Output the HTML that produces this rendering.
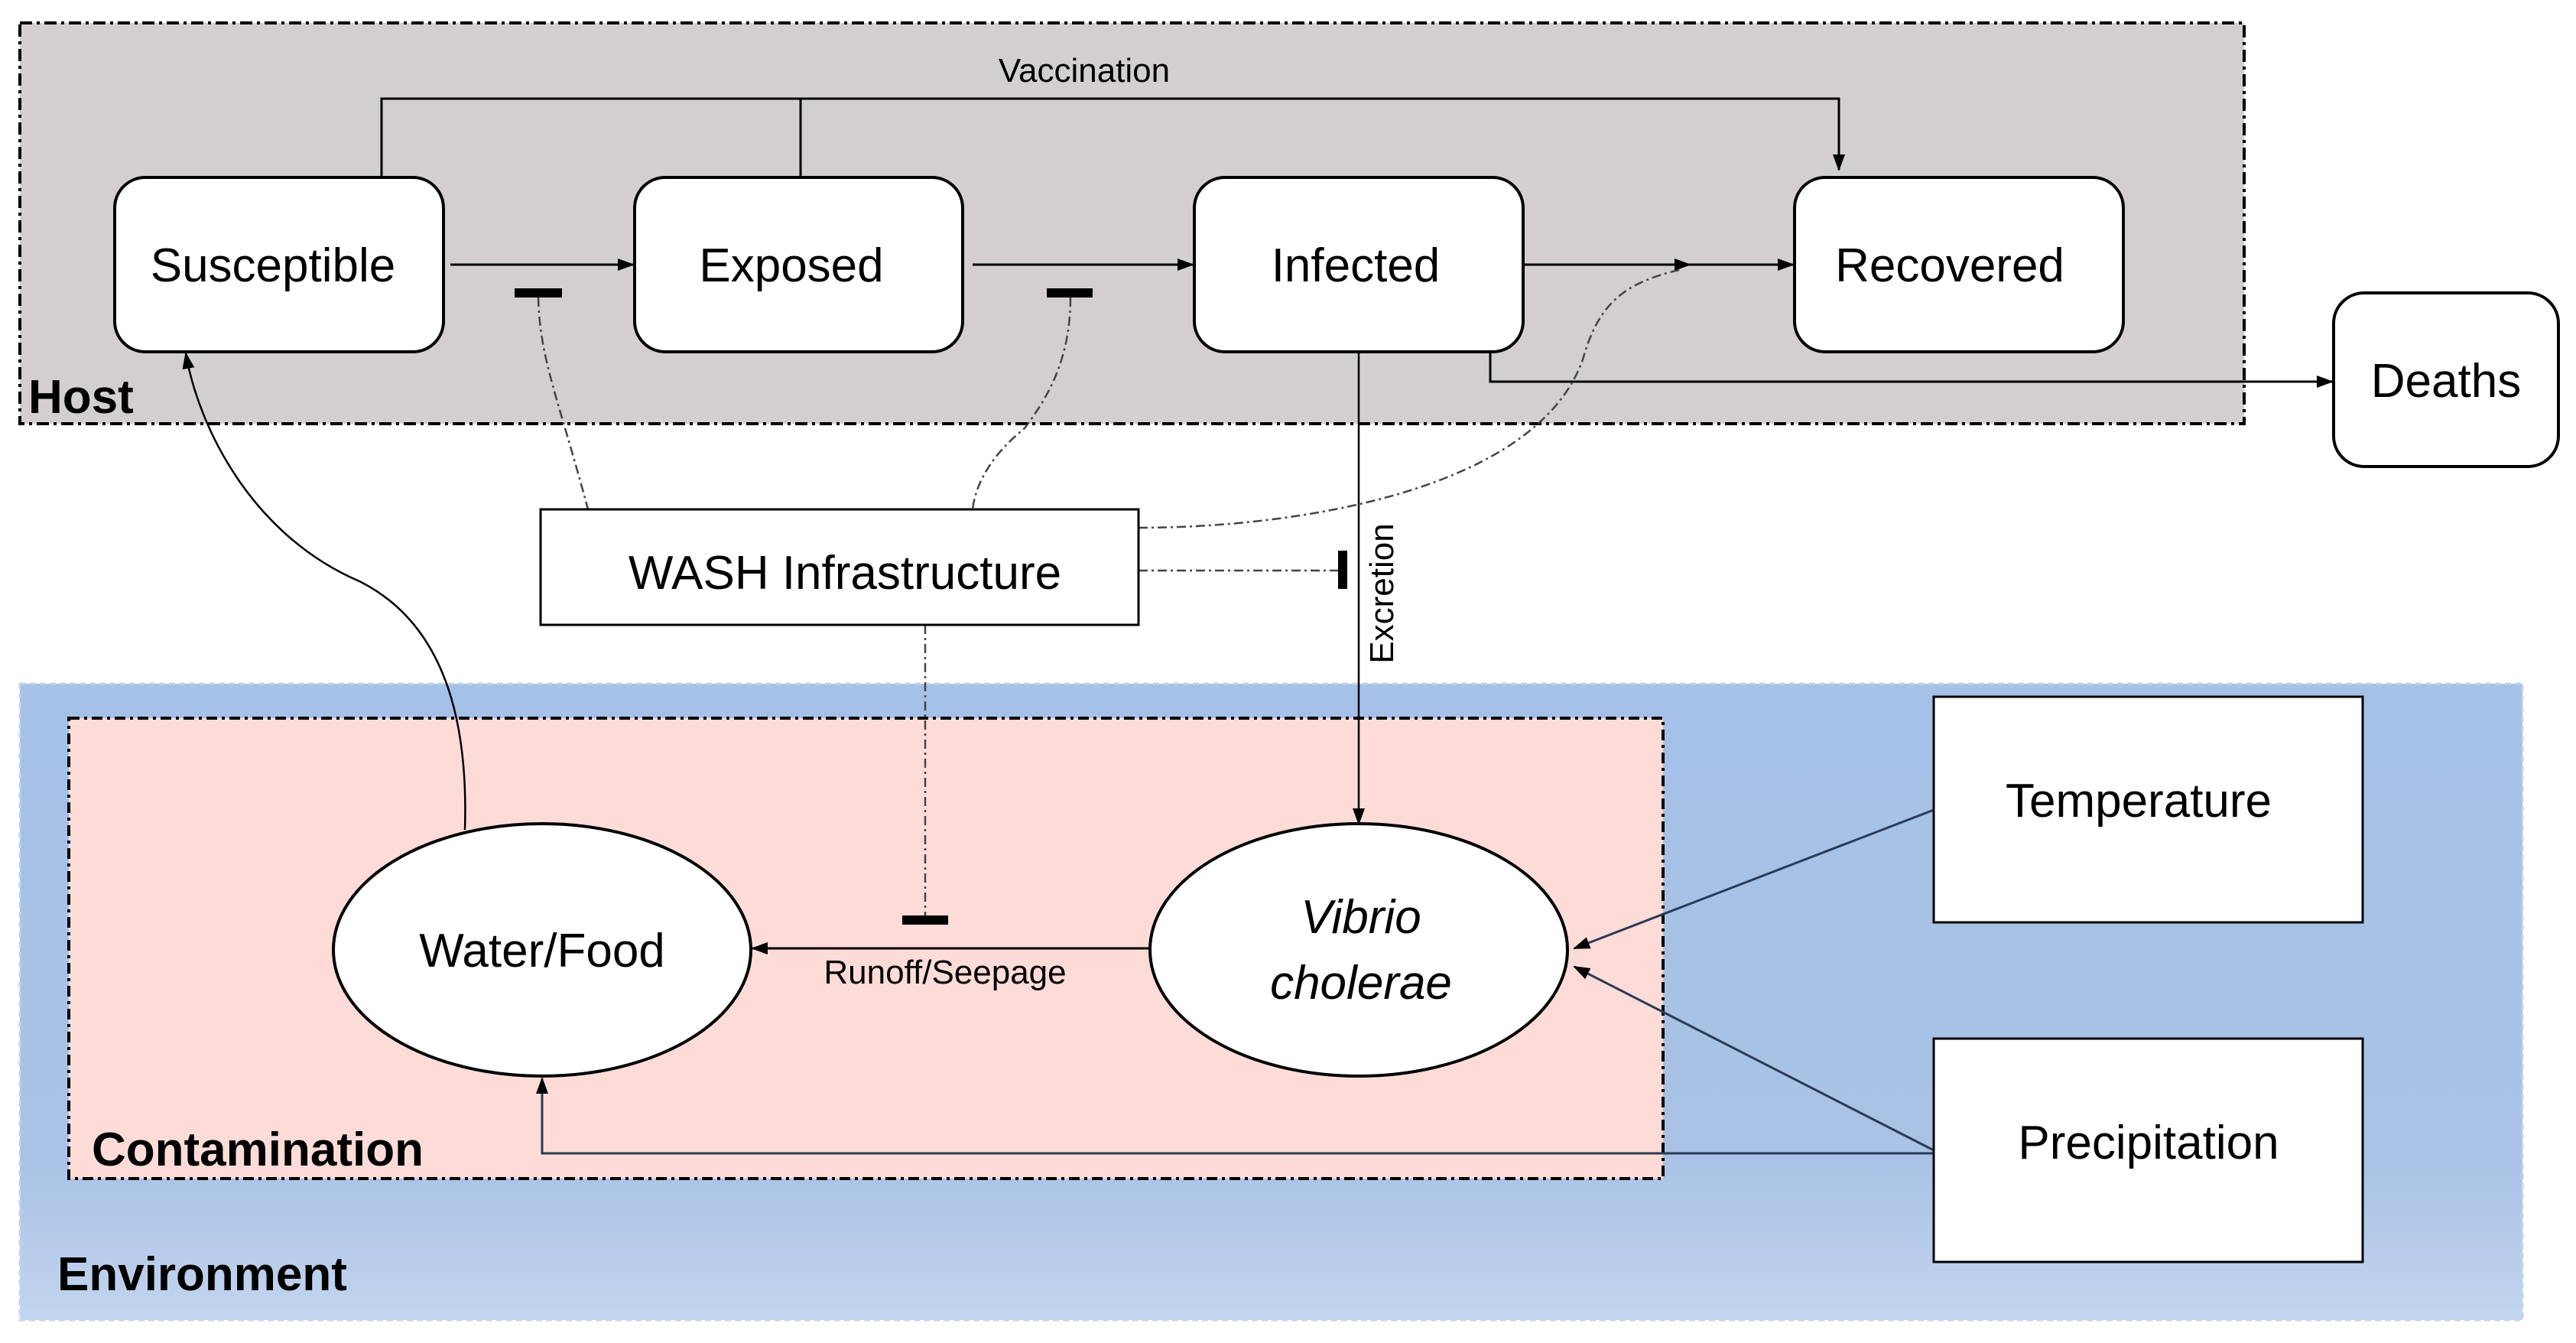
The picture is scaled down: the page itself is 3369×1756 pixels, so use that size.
<!DOCTYPE html>
<html><head><meta charset="utf-8"><style>html,body{margin:0;padding:0;background:#fff}svg{display:block}</style></head>
<body>
<svg width="3369" height="1756" viewBox="0 0 3369 1756" xmlns="http://www.w3.org/2000/svg" font-family="Liberation Sans, sans-serif">
<defs>
<marker id="b" markerWidth="22" markerHeight="22" refX="20" refY="11" orient="auto" markerUnits="userSpaceOnUse"><path d="M0,3 L22,11 L0,19 z" fill="#000"/></marker>
<linearGradient id="env" x1="0" y1="0" x2="0" y2="1"><stop offset="0" stop-color="#a6c1e7"/><stop offset="0.75" stop-color="#a9c2e6"/><stop offset="1" stop-color="#c3d5ee"/></linearGradient>
</defs>
<rect x="26" y="30" width="2909" height="524" fill="#d3cfd0" stroke="#000" stroke-width="4" stroke-dasharray="16,6,4,6"/>
<text x="37" y="540" font-size="62" font-weight="bold">Host</text>
<rect x="26" y="894" width="3273" height="832" fill="url(#env)" stroke="#c5d4ea" stroke-width="3" stroke-dasharray="8,5"/>
<rect x="90" y="939" width="2085" height="602" fill="#fddcd8" stroke="#000" stroke-width="4" stroke-dasharray="14,6,4,6"/>
<text x="120" y="1524" font-size="62" font-weight="bold">Contamination</text>
<text x="75" y="1687" font-size="62" font-weight="bold">Environment</text>

<g fill="none" stroke="#000" stroke-width="3">
<path d="M499,232 V129 H2405 V222" marker-end="url(#b)"/>
<path d="M1047,129 V232"/>
<path d="M589,346 H828" marker-end="url(#b)"/>
<path d="M1272,346 H1560" marker-end="url(#b)"/>
<path d="M1992,346 H2210" marker-end="url(#b)"/>
<path d="M2200,346 H2345" marker-end="url(#b)"/>
<path d="M1949,460 V499 H3050" marker-end="url(#b)"/>
<path d="M1777,460 V1077" marker-end="url(#b)" stroke-width="2.5"/>
<path d="M1504,1240 H984" marker-end="url(#b)"/>
<path d="M2529,1059 L2059,1240" marker-end="url(#b)" stroke="#2a3a55"/>
<path d="M2529,1504 L2059,1264" marker-end="url(#b)" stroke="#2a3a55"/>
<path d="M2529,1508 H709 V1410" marker-end="url(#b)" stroke="#2a3a55"/>
<path d="M608,1085 C612,960 590,820 470,760 C330,700 260,560 243,462" marker-end="url(#b)" stroke-width="2.5"/>
</g>
<text x="1418" y="107" font-size="44" text-anchor="middle">Vaccination</text>

<g fill="#000">
<rect x="673" y="377" width="62" height="12"/>
<rect x="1369" y="377" width="60" height="12"/>
<rect x="1750" y="720" width="12" height="50"/>
<rect x="1180" y="1197" width="60" height="12"/>
</g>
<g fill="none" stroke="#444" stroke-width="2.5" stroke-dasharray="12,5,3,5">
<path d="M704,389 C706,470 730,520 769,666"/>
<path d="M1400,389 C1400,470 1370,520 1340,560 C1290,600 1275,640 1272,666"/>
<path d="M1489,690 C1700,690 2010,640 2070,470 C2090,400 2120,370 2200,352"/>
<path d="M1489,746 H1750"/>
<path d="M1210,817 V1197"/>
</g>

<g fill="#fff" stroke="#000" stroke-width="4">
<rect x="150" y="232" width="430" height="228" rx="40"/>
<rect x="830" y="232" width="429" height="228" rx="40"/>
<rect x="1562" y="232" width="430" height="228" rx="40"/>
<rect x="2347" y="232" width="430" height="228" rx="40"/>
<rect x="3052" y="383" width="294" height="227" rx="40"/>
<rect x="707" y="666" width="782" height="151" stroke-width="3"/>
<rect x="2529" y="911" width="561" height="295" stroke-width="3"/>
<rect x="2529" y="1358" width="561" height="292" stroke-width="3"/>
<ellipse cx="709" cy="1242" rx="273" ry="165"/>
<ellipse cx="1777" cy="1242" rx="273" ry="165"/>
</g>
<g font-size="62" text-anchor="middle">
<text x="357" y="368">Susceptible</text>
<text x="1035" y="368">Exposed</text>
<text x="1773" y="368">Infected</text>
<text x="2550" y="368">Recovered</text>
<text x="3199" y="519">Deaths</text>
<text x="1105" y="770">WASH Infrastructure</text>
<text x="2797" y="1068">Temperature</text>
<text x="2810" y="1515">Precipitation</text>
<text x="709" y="1264">Water/Food</text>
<text x="1780" y="1220" font-style="italic">Vibrio</text>
<text x="1780" y="1306" font-style="italic">cholerae</text>
</g>
<text x="1236" y="1286" font-size="44" text-anchor="middle">Runoff/Seepage</text>
<text transform="translate(1822,776) rotate(-90)" font-size="44" text-anchor="middle">Excretion</text>
</svg>
</body></html>
